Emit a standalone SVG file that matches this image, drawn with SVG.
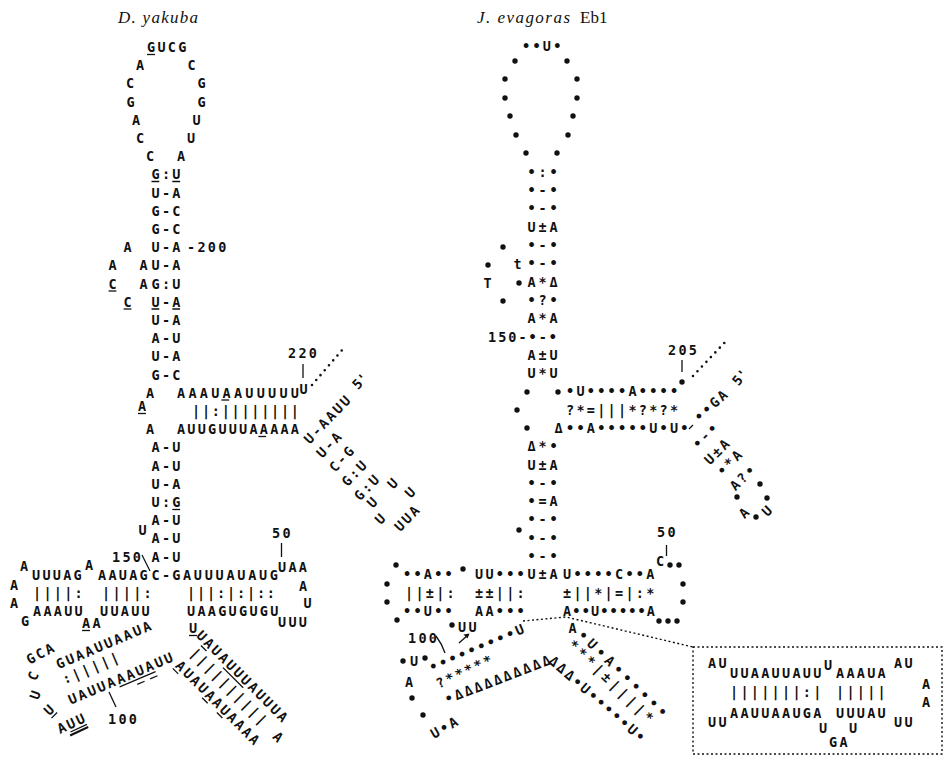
<svg xmlns="http://www.w3.org/2000/svg" width="951" height="758" viewBox="0 0 951 758">
<style>
.t,.r,.f,.m,.c{font-family:"DejaVu Sans Mono",monospace;font-size:13.5px;font-weight:bold;fill:#111}
.t{letter-spacing:2.27px}
.r{letter-spacing:2.87px}
.m{text-anchor:middle}
.c{letter-spacing:2.27px;text-anchor:middle}
.ti{font-family:"Liberation Serif",serif;font-size:17px;font-style:italic;fill:#111}
.tn{font-family:"Liberation Serif",serif;font-size:17px;fill:#111}
.ul{stroke:#111;stroke-width:1.3;fill:none}
.ln{stroke:#111;stroke-width:1.3;fill:none}
.dl{fill:none;stroke:#111;stroke-width:1.4;stroke-dasharray:2 2.5}
.db{fill:none;stroke:#111;stroke-width:2.6;stroke-linecap:round;stroke-dasharray:0 6.5}
circle{fill:#111}
</style>

<g id="d-yakuba">
  <text class="ti" x="118" y="23" textLength="80" lengthAdjust="spacing">D. yakuba</text>
  <text class="t" x="147" y="52">GUCG</text>
  <path class="ul" d="M147 54.5H155"/>
  <text class="m" x="140" y="70">A</text><text class="m" x="191.5" y="70">C</text>
  <text class="m" x="130" y="88">C</text><text class="m" x="201.5" y="88">G</text>
  <text class="m" x="130.5" y="106.5">G</text><text class="m" x="201.5" y="106.5">G</text>
  <text class="m" x="136" y="124.5">A</text><text class="m" x="196.5" y="124.5">U</text>
  <text class="m" x="140" y="143">C</text><text class="m" x="191" y="143">U</text>
  <text class="m" x="150" y="161">C</text><text class="m" x="181" y="161">A</text>
  <text class="t" x="151.5" y="179">G:U</text>
  <path class="ul" d="M151.5 181.5H159.3M172.3 181.5H180.1"/>
  <text class="t" x="151.5" y="197.5">U-A</text>
  <text class="t" x="151.5" y="215.5">G-C</text>
  <text class="t" x="151.5" y="234">G-C</text>
  <text class="m" x="127.5" y="252">A</text>
  <text class="t" x="151.5" y="252">U-A</text>
  <text class="t" x="187" y="252">-200</text>
  <text class="m" x="112.5" y="270">A</text><text class="m" x="143.5" y="270">A</text>
  <text class="t" x="151.5" y="270">U-A</text>
  <text class="m" x="112.5" y="288.5">C</text><path class="ul" d="M108.6 291H116.4"/>
  <text class="m" x="143.5" y="288.5">A</text>
  <text class="t" x="151.5" y="288.5">G:U</text>
  <text class="m" x="127.5" y="306.5">C</text><path class="ul" d="M123.6 309H131.4"/>
  <text class="t" x="151.5" y="306.5">U-A</text>
  <path class="ul" d="M151.5 309H159.3M172.3 309H180.1"/>
  <text class="t" x="151.5" y="325">U-A</text>
  <text class="t" x="151.5" y="343">A-U</text>
  <text class="t" x="151.5" y="361">U-A</text>
  <text class="t" x="151.5" y="379.5">G-C</text>
  <text class="m" x="150" y="397.5">A</text>
  <text class="f" x="177" y="397.5" textLength="122" lengthAdjust="spacing">AAAUAAUUUUU</text>
  <path class="ul" d="M221.4 400H229.2"/>
  <text class="m" x="303.5" y="394">U</text>
  <text class="m" x="142" y="411">A</text><path class="ul" d="M138 413.5H146"/>
  <text class="f" x="192" y="416" textLength="107" lengthAdjust="spacing">||:||||||||</text>
  <text class="m" x="150" y="434">A</text>
  <text class="f" x="177" y="434" textLength="122" lengthAdjust="spacing">AUUGUUUAAAAA</text>
  <path class="ul" d="M258.3 436.5H266.1"/>
  <text class="t" x="288" y="358">220</text>
  <g transform="translate(327.8 418.8) rotate(-46)"><text class="c" y="4.9">U-AAUU</text></g>
  <g transform="translate(329.6 444.2) rotate(-46)"><text class="c" y="4.9">U-A</text></g>
  <g transform="translate(342.2 458.4) rotate(-46)"><text class="c" y="4.9">C-G</text></g>
  <g transform="translate(354.8 472.6) rotate(-46)"><text class="c" y="4.9">G:U</text></g>
  <g transform="translate(367.4 486.8) rotate(-46)"><text class="c" y="4.9">G:U</text></g>
  <g transform="translate(392.5 483.5) rotate(-46)"><text class="m" y="4.9">U</text></g>
  <g transform="translate(410 492.5) rotate(-46)"><text class="m" y="4.9">U</text></g>
  <g transform="translate(372 502.5) rotate(-46)"><text class="m" y="4.9">U</text></g>
  <g transform="translate(380 519) rotate(-46)"><text class="m" y="4.9">U</text></g>
  <g transform="translate(407.5 517.5) rotate(-46)"><text class="c" y="4.9">UUA</text></g>
  <g transform="translate(360 381) rotate(-46)"><text class="m" y="4.9">5'</text></g>
  <text class="t" x="151.5" y="452">A-U</text>
  <text class="t" x="151.5" y="470.5">A-U</text>
  <text class="t" x="151.5" y="488.5">U-A</text>
  <text class="t" x="151.5" y="507">U:G</text><path class="ul" d="M172.3 509.5H180.1"/>
  <text class="t" x="151.5" y="525">A-U</text>
  <text class="m" x="142.5" y="535">U</text>
  <text class="t" x="151.5" y="543">A-U</text>
  <text class="t" x="151.5" y="561.5">A-U</text>
  <text class="t" x="112" y="562">150</text>
  <text class="m" x="24" y="571">A</text>
  <text class="t" x="32" y="579.5">UUUAG</text>
  <text class="m" x="89" y="570">A</text>
  <text class="t" x="98" y="579.5">AAUAG</text>
  <text class="t" x="151.5" y="579.5">C-G</text>
  <text class="f" x="183" y="579.5" textLength="95" lengthAdjust="spacing">AUUUAUAUG</text>
  <text class="t" x="278" y="572">UAA</text>
  <text class="t" x="272" y="538">50</text>
  <text class="m" x="14" y="590">A</text>
  <text class="m" x="14" y="607.5">A</text>
  <text class="t" x="33" y="598">||||:</text>
  <text class="t" x="102" y="598">||||:</text>
  <text class="f" x="187" y="598" textLength="88" lengthAdjust="spacing">|||:|:|::</text>
  <text class="m" x="303" y="591">A</text>
  <text class="m" x="307.5" y="608">U</text>
  <text class="m" x="25" y="626">G</text>
  <text class="t" x="33" y="616">AAAUU</text>
  <text class="t" x="82" y="628">AA</text><path class="ul" d="M82 630.5H90"/>
  <text class="t" x="100" y="616">UUAUU</text>
  <text class="t" x="187" y="616">UAAGUGUGU</text>
  <text class="t" x="278" y="627">UUU</text>
  <text class="m" x="193" y="633">U</text><path class="ul" d="M189 635.5H197"/>
  <g transform="translate(104.5 644.5) rotate(-23)"><text class="c" y="4.9">GUAAUUAAUA</text></g>
  <g transform="translate(41 653) rotate(-28)"><text class="c" y="4.9">GCA</text></g>
  <g transform="translate(91.5 667.5) rotate(-23)"><text class="c" y="4.9">:|||||</text></g>
  <g transform="translate(121.5 678) rotate(-23)"><text class="c" y="4.9">UAUUAAAUAUU</text>
    <path class="ul" d="M-5.2 7.5H33.8"/><path class="ul" d="M12 12H20M26 12H34"/></g>
  <g transform="translate(33 676) rotate(-65)"><text class="m" y="4.9">C</text></g>
  <g transform="translate(35 695) rotate(-70)"><text class="m" y="4.9">U</text></g>
  <g transform="translate(49 710) rotate(-45)"><text class="m" y="4.9">U</text><path class="ul" d="M-4 7.5H4"/></g>
  <g transform="translate(72 723) rotate(-25)"><text class="c" y="4.9">AUU</text>
    <path class="ul" d="M-5.2 7.5H13"/><path d="M-7 10.5H13" stroke="#111" stroke-width="2"/></g>
  <text class="t" x="108" y="724">100</text>
  <g transform="translate(243 677) rotate(45)"><text class="c" y="4.9">UAUAUUUAUUUA</text>
    <path class="ul" d="M-52 7.5H-44.2M-20.8 7.5H7.8"/></g>
  <g transform="translate(229.5 687) rotate(45)"><text class="c" y="4.9">||||||||||</text></g>
  <g transform="translate(218.5 703.5) rotate(45)"><text class="c" y="4.9">AUAUAAUAAAA</text>
    <path class="ul" d="M-57.2 7.5H-49.4M-15.6 7.5H-7.8M5.2 7.5H13"/></g>
  <g transform="translate(278 737) rotate(45)"><text class="m" y="4.9">A</text></g>
</g>

<g id="j-evagoras">
  <text class="ti" x="477" y="23" textLength="93" lengthAdjust="spacing">J. evagoras</text>
  <text class="tn" x="580" y="23">Eb1</text>
  <text class="t" x="522" y="51">••U•</text>
  <circle cx="515" cy="61" r="2.7"/><circle cx="505" cy="79" r="2.7"/><circle cx="505" cy="98" r="2.7"/>
  <circle cx="510" cy="116" r="2.7"/><circle cx="516" cy="135" r="2.7"/><circle cx="526" cy="153" r="2.7"/>
  <circle cx="567" cy="61" r="2.7"/><circle cx="577" cy="79" r="2.7"/><circle cx="577" cy="98" r="2.7"/>
  <circle cx="573" cy="116" r="2.7"/><circle cx="568" cy="135" r="2.7"/><circle cx="557" cy="153" r="2.7"/>
  <text class="r" x="527.5" y="176.7">•:•</text>
  <text class="r" x="527.5" y="195">•-•</text>
  <text class="r" x="527.5" y="213.3">•-•</text>
  <text class="r" x="527.5" y="232">U±A</text>
  <text class="r" x="527.5" y="250">•-•</text><circle cx="503" cy="247" r="2.7"/>
  <text class="r" x="527.5" y="268.2">•-•</text><circle cx="488" cy="265" r="2.7"/>
  <text class="m" x="517.5" y="269">t</text>
  <text class="r" x="527.5" y="286.5">A*Δ</text><circle cx="519" cy="283" r="2.7"/>
  <text class="m" x="487.5" y="288">T</text>
  <text class="r" x="527.5" y="305">•?•</text><circle cx="503" cy="301" r="2.7"/>
  <text class="r" x="527.5" y="323">A*A</text>
  <text class="f" x="488" y="341.5" textLength="69" lengthAdjust="spacing">150-•-•</text>
  <text class="r" x="527.5" y="359.7">A±U</text>
  <text class="r" x="527.5" y="378">U*U</text>
  <circle cx="527" cy="392" r="2.7"/><circle cx="558" cy="392" r="2.7"/>
  <text class="t" x="566" y="396.3">•U••••A••••</text>
  <text class="t" x="668" y="355">205</text>
  <circle cx="682" cy="382" r="2.7"/>
  <circle cx="517" cy="410" r="2.7"/>
  <text class="t" x="566" y="414.6">?*=|||*?*?*</text>
  <circle cx="527" cy="428" r="2.7"/>
  <text class="m" x="558.5" y="433">Δ</text>
  <text class="t" x="566" y="433">••A•••••U•U•</text>
  <g transform="translate(711.5 405) rotate(-42)"><text class="c" y="4.9">••GA</text></g>
  <g transform="translate(740 377) rotate(-50)"><text class="m" y="4.9">5'</text></g>
  <g transform="translate(705.5 435) rotate(-45)"><text class="c" y="4.9">•-•</text></g>
  <g transform="translate(717.5 451) rotate(-45)"><text class="c" y="4.9">U±A</text></g>
  <g transform="translate(730 462) rotate(-45)"><text class="c" y="4.9">•*A</text></g>
  <g transform="translate(743 477) rotate(-45)"><text class="c" y="4.9">A?•</text></g>
  <circle cx="760" cy="484" r="2.7"/><circle cx="767" cy="498" r="2.7"/>
  <circle cx="737" cy="497" r="2.7"/>
  <g transform="translate(744 513) rotate(-45)"><text class="m" y="4.9">A</text></g>
  <circle cx="756" cy="517" r="2.7"/>
  <g transform="translate(767 511) rotate(-45)"><text class="m" y="4.9">U</text></g>
  <text class="r" x="527.5" y="451.2">Δ*•</text>
  <text class="r" x="527.5" y="469.5">U±A</text>
  <text class="r" x="527.5" y="487.8">•-•</text>
  <text class="r" x="527.5" y="506">•=A</text>
  <text class="r" x="527.5" y="524.4">•-•</text><circle cx="519" cy="530" r="2.7"/>
  <text class="r" x="527.5" y="542.7">•-•</text>
  <text class="r" x="527.5" y="561">•-•</text>
  <text class="r" x="527.5" y="579.3">U±A</text>
  <circle cx="396" cy="565" r="2.7"/>
  <text class="t" x="403" y="579.3">••A••</text>
  <circle cx="463" cy="569" r="2.7"/>
  <text class="t" x="475" y="579.3">UU•••</text>
  <text class="t" x="563" y="579.3">U••••C••A</text>
  <text class="m" x="660" y="566">C</text>
  <circle cx="670" cy="565" r="2.7"/><circle cx="679" cy="565" r="2.7"/>
  <text class="t" x="657" y="537">50</text>
  <circle cx="387" cy="584" r="2.7"/>
  <text class="t" x="405" y="597.6">||±|:</text>
  <text class="t" x="475" y="597.6">±±||:</text>
  <text class="t" x="563" y="597.6">±||*|=|:*</text>
  <circle cx="683" cy="584" r="2.7"/>
  <circle cx="387" cy="602" r="2.7"/>
  <text class="t" x="403" y="616">••U••</text>
  <text class="t" x="475" y="616">AA•••</text>
  <text class="f" x="563" y="616" textLength="92" lengthAdjust="spacing">A••U•••••A</text>
  <circle cx="683" cy="602" r="2.7"/>
  <circle cx="659" cy="621" r="2.7"/><circle cx="668" cy="621" r="2.7"/><circle cx="677" cy="621" r="2.7"/>
  <circle cx="397" cy="620" r="2.7"/>
  <circle cx="452" cy="625" r="2.7"/>
  <text class="t" x="458" y="632">UU</text>
  <text class="t" x="408" y="643">100</text>
  <circle cx="403" cy="661" r="2.7"/><text class="m" x="414" y="666">U</text><circle cx="425" cy="658" r="2.7"/>
  <text class="m" x="409" y="687">A</text>
  <circle cx="412" cy="698" r="2.7"/><circle cx="423" cy="715" r="2.7"/>
  <g transform="translate(445 727) rotate(-30)"><text class="c" y="4.9">U•A</text></g>
  <g transform="translate(477.5 647.5) rotate(-23)"><text class="c" y="4.9">•••••••••U</text></g>
  <g transform="translate(465 671) rotate(-25)"><text class="c" y="4.9">?*****</text></g>
  <g transform="translate(498.5 679) rotate(-21)"><text class="c" y="4.9">•ΔΔΔΔΔΔΔΔΔΔ</text></g>
  <text class="m" x="572.5" y="632.5">A</text>
  <g transform="translate(623 673.5) rotate(44)"><text class="f" x="-59" y="4.9" textLength="118" lengthAdjust="spacing">•U•A••••••</text></g>
  <g transform="translate(611 681) rotate(44)"><text class="f" x="-56" y="4.9" textLength="112" lengthAdjust="spacing">***|±||||*</text></g>
  <g transform="translate(598 699.5) rotate(41)"><text class="c" y="4.9">ΔΔΔ•U•••••U•</text></g>
</g>

<g id="inset">
  <text class="t" x="708" y="668">AU</text>
  <text class="t" x="730" y="678">UUAAUUAUU</text>
  <text class="m" x="828" y="670">U</text>
  <text class="t" x="836" y="678">AAAUA</text>
  <text class="t" x="894" y="668">AU</text>
  <text class="m" x="926" y="689">A</text>
  <text class="m" x="926" y="707">A</text>
  <text class="t" x="730" y="697">|||||||:|</text>
  <text class="t" x="836" y="697">|||||</text>
  <text class="t" x="708" y="727">UU</text>
  <text class="t" x="730" y="718">AAUUAAUGA</text>
  <text class="t" x="836" y="718">UUUAU</text>
  <text class="t" x="894" y="727">UU</text>
  <text class="m" x="823" y="733">U</text>
  <text class="t" x="829" y="747">GA</text>
  <text class="m" x="853" y="733">U</text>
</g>

<g id="connectors">
  <path class="ln" d="M142 555L150 571"/>
  <path class="ln" d="M281.5 543V557"/>
  <path class="ln" d="M303 364V378"/>
  <path class="db" d="M312 385L343 349"/>
  <path class="ln" d="M109 692L116 707"/>
  <path class="ln" d="M682 360V372"/>
  <path class="db" d="M693 376L728 339"/>
  <path class="ln" d="M689 429L693 425"/>
  <path class="ln" d="M666.5 545V556"/>
  <path class="ln" d="M436 636Q442 644 445 653"/>
  <path class="ln" d="M459 643L468 635"/>
  <path d="M469.5 633.5L463.5 634.5L467.5 638.5Z" fill="#111"/>
  <path class="dl" d="M523 621L566 617L693 647"/>
  <rect class="dl" x="693" y="647" width="249" height="107"/>
</g>
</svg>
